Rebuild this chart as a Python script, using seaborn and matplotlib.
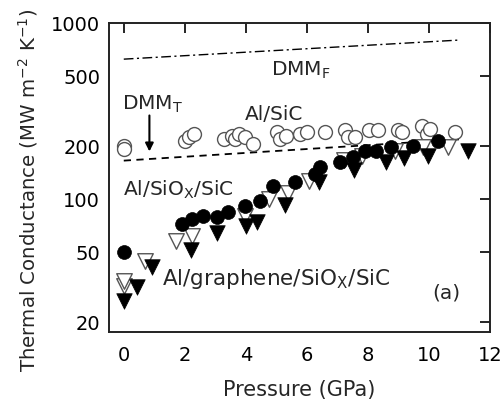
import numpy as np
import pandas as pd
import matplotlib
matplotlib.use("Agg")
import matplotlib.pyplot as plt
import seaborn as sns

# ---- data ----
alsic_p = [0, 0, 2.02, 2.15, 2.31, 3.30, 3.56, 3.63, 3.79, 3.96, 4.22, 5.01, 5.11, 5.33,
           5.76, 5.99, 6.58, 7.24, 7.33, 7.56, 8.05, 8.32, 8.97, 9.10, 9.76, 9.92, 10.02, 10.84]
alsic_g = [201, 193, 212, 226, 235, 220, 229, 220, 235, 226, 206, 241, 220, 229,
           235, 241, 241, 245, 226, 226, 245, 245, 245, 241, 258, 235, 251, 241]

alsiox_p = [0.02, 1.92, 2.25, 2.58, 3.04, 3.40, 3.96, 4.45, 4.88, 5.60, 6.25, 6.42,
            7.07, 7.50, 7.89, 8.28, 8.77, 9.47, 10.28]
alsiox_g = [49.8, 72, 76.9, 80, 78.9, 84.3, 91.2, 97.4, 119, 124, 139, 152,
            163, 174, 186, 188, 198, 201, 212]

gr_open_p = [0, 0.02, 0.71, 1.70, 2.25, 3.96, 4.77, 5.37, 6.08, 7.20, 7.79, 8.87, 9.79, 10.61]
gr_open_g = [31.8, 34, 44.2, 57.5, 61.5, 80, 100, 108, 127, 167, 176, 188, 198, 198]

gr_fill_p = [0.02, 0.42, 0.91, 2.19, 3.04, 3.99, 4.38, 5.27, 6.38, 7.53, 8.58, 9.17, 9.96, 11.27]
gr_fill_g = [26.2, 31.4, 40.9, 51.2, 64, 70.2, 73.9, 92.4, 125, 145, 163, 171, 176, 186]

dmmf_p = [0, 11]
dmmf_g = [623, 800]
dmmt_p = [0, 11]
dmmt_g = [165, 218]

x_ticks = [0, 2, 4, 6, 8, 10, 12]
y_ticks = [20, 50, 100, 200, 500, 1000]

# ---- style ----
sns.set_theme(style="white")
plt.rcParams['font.family'] = ['DejaVu Sans']
plt.rcParams['mathtext.fontset'] = 'dejavusans'

fig = plt.figure(figsize=(5.04, 4.02), dpi=100)
ax = fig.add_axes([0.2153, 0.1716, 0.757, 0.7687])

sns.lineplot(x=dmmf_p, y=dmmf_g, ax=ax, color='black', lw=1.0,
             linestyle=(0, (7, 2.5, 1.5, 2.5)))
sns.lineplot(x=dmmt_p, y=dmmt_g, ax=ax, color='black', lw=1.3,
             linestyle=(0, (4, 3)))

sns.scatterplot(x=alsic_p, y=alsic_g, ax=ax, marker='o', s=100,
                facecolor='white', edgecolor='#555555', linewidth=1.0, zorder=3)
sns.scatterplot(x=gr_open_p, y=gr_open_g, ax=ax, marker='v', s=125,
                facecolor='white', edgecolor='#555555', linewidth=1.0, zorder=4)
sns.scatterplot(x=alsiox_p, y=alsiox_g, ax=ax, marker='o', s=100,
                color='black', edgecolor='black', linewidth=0.5, zorder=5)
sns.scatterplot(x=gr_fill_p, y=gr_fill_g, ax=ax, marker='v', s=125,
                color='black', edgecolor='black', linewidth=0.5, zorder=6)

ax.set_yscale('log')
ax.set_xlim(-0.5, 12)
ax.set_ylim(17.5, 1000)
ax.set_xticks(x_ticks)
ax.set_xticklabels([str(t) for t in x_ticks])
ax.set_yticks(y_ticks)
ax.set_yticklabels([str(t) for t in y_ticks])
ax.yaxis.set_minor_locator(matplotlib.ticker.NullLocator())

ax.tick_params(axis='both', which='major', direction='in', length=7.5, width=1.2,
               top=True, right=True, labelsize=14, colors='black')
ax.tick_params(axis='x', pad=9)
ax.tick_params(axis='y', pad=6)
for s in ax.spines.values():
    s.set_linewidth(1.4)
    s.set_color('#222222')

ax.set_xlabel('Pressure (GPa)', fontsize=15, labelpad=11)
ax.set_ylabel(r'Thermal Conductance (MW m$^{-2}$ K$^{-1}$)', fontsize=14.2, labelpad=8)
ax.yaxis.label.set_y(0.463)

fs = 14.5
ax.text(4.84, 511, r'DMM$_\mathregular{F}$', fontsize=fs, ha='left', va='baseline')
ax.text(-0.07, 327, r'DMM$_\mathregular{T}$', fontsize=fs, ha='left', va='baseline')
ax.annotate('', xy=(0.84, 186), xytext=(0.84, 298),
            arrowprops=dict(arrowstyle='-|>', color='black', lw=1.5,
                            mutation_scale=12, shrinkA=0, shrinkB=0))
ax.text(3.96, 286, 'Al/SiC', fontsize=fs, ha='left', va='baseline')
ax.text(-0.04, 105, r'Al/SiO$_\mathregular{X}$/SiC', fontsize=fs, ha='left', va='baseline')
ax.text(1.24, 32.7, r'Al/graphene/SiO$_\mathregular{X}$/SiC', fontsize=15.5,
        ha='left', va='baseline')
ax.text(10.12, 27.5, '(a)', fontsize=fs, ha='left', va='baseline')

fig.savefig('out.png', dpi=100)
